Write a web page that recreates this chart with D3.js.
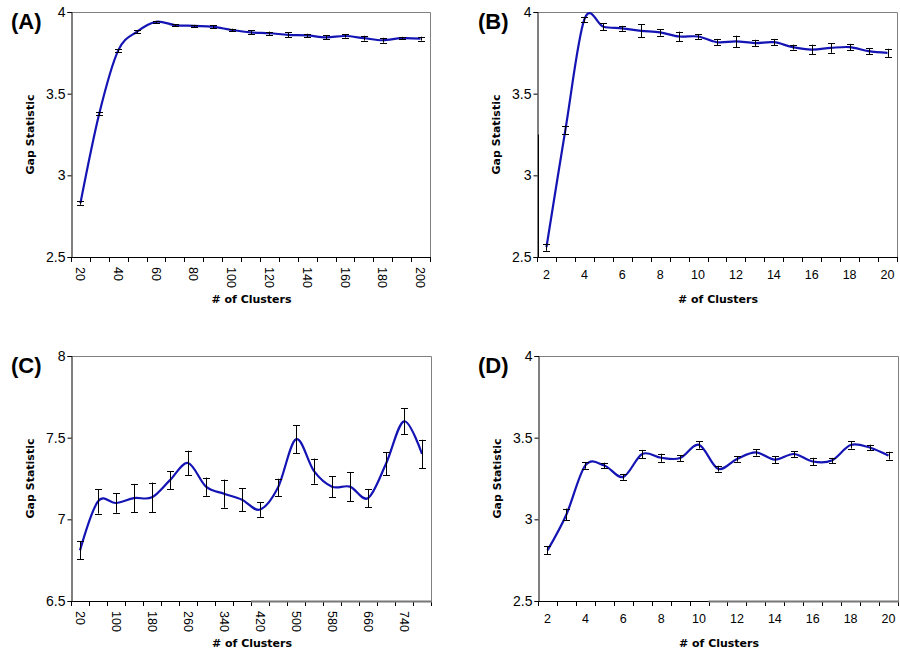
<!DOCTYPE html>
<html>
<head>
<meta charset="utf-8">
<script src="https://cdn.jsdelivr.net/npm/d3@7/dist/d3.min.js"></script>
<style>
  body { margin: 0; background: #fff; }
  svg { display: block; }
  .tick-y { font: 14px "Liberation Sans", Arial, sans-serif; }
  .tick-x { font: 12.5px "Liberation Sans", Arial, sans-serif; }
  .title { font: bold 11px "DejaVu Sans", Verdana, sans-serif; }
  .panel { font: bold 22px "Liberation Sans", Arial, sans-serif; }
</style>
</head>
<body>
<svg width="900" height="651"></svg>
<script>
// (A)
const clustersA = [20, 30, 40, 50, 60, 70, 80, 90, 100, 110, 120, 130, 140, 150, 160, 170, 180, 190, 200];
const gapA = [2.83, 3.38, 3.765, 3.88, 3.94, 3.92, 3.915, 3.91, 3.89, 3.875, 3.87, 3.86, 3.857, 3.845, 3.853, 3.84, 3.827, 3.84, 3.837];
const errA = [0.01, 0.01, 0.01, 0.008, 0.005, 0.006, 0.006, 0.008, 0.008, 0.012, 0.01, 0.015, 0.01, 0.012, 0.01, 0.015, 0.015, 0.008, 0.012];
const yTicksA = [2.5, 3, 3.5, 4];

// (B)
const clustersB = [2, 3, 4, 5, 6, 7, 8, 9, 10, 11, 12, 13, 14, 15, 16, 17, 18, 19, 20];
const gapB = [2.56, 3.28, 3.955, 3.91, 3.9, 3.885, 3.875, 3.85, 3.85, 3.815, 3.82, 3.81, 3.815, 3.785, 3.77, 3.78, 3.785, 3.76, 3.75];
const errB = [0.022, 0.025, 0.015, 0.02, 0.015, 0.04, 0.02, 0.03, 0.015, 0.02, 0.035, 0.02, 0.02, 0.015, 0.03, 0.03, 0.02, 0.02, 0.025];
const yTicksB = [2.5, 3, 3.5, 4];

// (C)
const clustersC = [20, 60, 100, 140, 180, 220, 260, 300, 340, 380, 420, 460, 500, 540, 580, 620, 660, 700, 740, 780];
const gapC = [6.81, 7.11, 7.1, 7.13, 7.135, 7.24, 7.345, 7.2, 7.157, 7.12, 7.06, 7.195, 7.49, 7.295, 7.2, 7.2, 7.13, 7.34, 7.6, 7.4];
const errC = [0.055, 0.075, 0.06, 0.087, 0.09, 0.055, 0.075, 0.056, 0.086, 0.07, 0.045, 0.054, 0.085, 0.077, 0.064, 0.09, 0.056, 0.07, 0.08, 0.087];
const yTicksC = [6.5, 7, 7.5, 8];

// (D)
const clustersD = [2, 3, 4, 5, 6, 7, 8, 9, 10, 11, 12, 13, 14, 15, 16, 17, 18, 19, 20];
const gapD = [2.81, 3.03, 3.33, 3.33, 3.26, 3.4, 3.377, 3.375, 3.456, 3.31, 3.37, 3.41, 3.365, 3.4, 3.354, 3.36, 3.455, 3.44, 3.39];
const errD = [0.025, 0.036, 0.02, 0.017, 0.018, 0.025, 0.025, 0.017, 0.023, 0.018, 0.017, 0.02, 0.023, 0.018, 0.023, 0.016, 0.022, 0.017, 0.024];
const yTicksD = [2.5, 3, 3.5, 4];

const svg = d3.select('svg');
svg.append('rect').attr('width', 900).attr('height', 651).attr('fill', '#fff');

function drawPanel(p) {
  const { left, top, right, bottom } = p.box;
  const x = d3.scaleBand().domain(p.cats).range([left, right]).padding(0);
  const y = d3.scaleLinear().domain(d3.extent(p.yTicks)).range([bottom, top]);
  const g = svg.append('g');

  // gray frame on top / right
  g.append('path')
    .attr('d', `M${left},${top + 0.5}H${right + 0.5}V${bottom}`)
    .attr('fill', 'none').attr('stroke', '#808080').attr('stroke-width', 1);

  // y axis
  const yAxis = g.append('g').attr('transform', `translate(${left + 0.5},0)`)
    .call(d3.axisLeft(y).tickValues(p.yTicks).tickSize(4).tickPadding(2).tickFormat(d => String(d)));
  yAxis.select('.domain').attr('stroke', '#000');
  yAxis.selectAll('.tick line').attr('stroke', '#000');
  yAxis.selectAll('text').attr('class', 'tick-y').attr('fill', '#000')
    .attr('font-family', null).attr('font-size', null);

  // x axis: ticks on category boundaries, labels every other category
  const edges = p.cats.map(c => x(c)).concat([right]);
  const xg = g.append('g');
  xg.append('line').attr('x1', left).attr('x2', right + 1)
    .attr('y1', bottom + 0.5).attr('y2', bottom + 0.5).attr('stroke', '#000');
  xg.selectAll('.xt').data(edges).join('line')
    .attr('x1', d => Math.round(d) + 0.5).attr('x2', d => Math.round(d) + 0.5)
    .attr('y1', bottom).attr('y2', bottom + 5).attr('stroke', '#000');
  const labelled = p.cats.filter((c, i) => i % 2 === 0);
  if (p.rotate) {
    xg.selectAll('.xl').data(labelled).join('text').attr('class', 'tick-x')
      .attr('transform', d => `translate(${x(d) + x.bandwidth() / 2},${bottom + 10}) rotate(90)`)
      .attr('dy', '0.35em').text(d => d);
  } else {
    xg.selectAll('.xl').data(labelled).join('text').attr('class', 'tick-x')
      .attr('x', d => x(d) + x.bandwidth() / 2).attr('y', bottom + 22)
      .attr('text-anchor', 'middle').text(d => d);
  }

  // seam artefacts on the axes of the original
  if (p.seamY) {
    g.append('line').attr('x1', left + 1.5).attr('x2', left + 1.5)
      .attr('y1', y(p.seamY)).attr('y2', bottom).attr('stroke', '#000');
  }
  if (p.seamX) {
    g.append('line').attr('x1', x(p.seamX)).attr('x2', right + 1)
      .attr('y1', bottom + 0.5).attr('y2', bottom + 0.5)
      .attr('stroke', '#777').attr('stroke-width', 2);
  }

  // titles
  g.append('text').attr('class', 'title')
    .attr('transform', `translate(${left - 37},${(top + bottom) / 2}) rotate(-90)`)
    .attr('text-anchor', 'middle').text('Gap Statistic');
  g.append('text').attr('class', 'title')
    .attr('x', (left + right) / 2 + 1).attr('y', bottom + 46)
    .attr('text-anchor', 'middle').text('# of Clusters');
  g.append('text').attr('class', 'panel')
    .attr('x', p.label[0]).attr('y', p.label[1]).text(p.name);

  const pts = p.cats.map((c, i) => ({ c, v: p.vals[i], e: p.errs[i] }));
  const cx = d => x(d.c) + x.bandwidth() / 2;

  // smoothed line
  g.append('path').datum(pts)
    .attr('d', d3.line().x(cx).y(d => y(d.v)).curve(d3.curveCardinal.tension(0)))
    .attr('fill', 'none').attr('stroke', '#1414b4').attr('stroke-width', 2.2);

  // error bars
  const eb = g.append('g').attr('stroke', '#000').attr('stroke-width', 1);
  eb.selectAll('.v').data(pts).join('line')
    .attr('x1', d => Math.round(cx(d)) + 0.5).attr('x2', d => Math.round(cx(d)) + 0.5)
    .attr('y1', d => y(d.v + d.e)).attr('y2', d => y(d.v - d.e));
  eb.selectAll('.t').data(pts).join('line')
    .attr('x1', d => Math.round(cx(d)) - 3).attr('x2', d => Math.round(cx(d)) + 4)
    .attr('y1', d => Math.round(y(d.v + d.e)) + 0.5).attr('y2', d => Math.round(y(d.v + d.e)) + 0.5);
  eb.selectAll('.b').data(pts).join('line')
    .attr('x1', d => Math.round(cx(d)) - 3).attr('x2', d => Math.round(cx(d)) + 4)
    .attr('y1', d => Math.round(y(d.v - d.e)) + 0.5).attr('y2', d => Math.round(y(d.v - d.e)) + 0.5);
}

drawPanel({ name: '(A)', label: [11, 29], box: { left: 71, top: 12, right: 430, bottom: 257 },
  cats: clustersA, vals: gapA, errs: errA, yTicks: yTicksA, rotate: true });
drawPanel({ name: '(B)', label: [478, 29], box: { left: 537, top: 12, right: 897, bottom: 257 },
  cats: clustersB, vals: gapB, errs: errB, yTicks: yTicksB, rotate: false, seamY: 3.25 });
drawPanel({ name: '(C)', label: [11, 373], box: { left: 71, top: 356, right: 431, bottom: 601 },
  cats: clustersC, vals: gapC, errs: errC, yTicks: yTicksC, rotate: true, seamX: 420 });
drawPanel({ name: '(D)', label: [478, 373], box: { left: 538, top: 356, right: 898, bottom: 601 },
  cats: clustersD, vals: gapD, errs: errD, yTicks: yTicksD, rotate: false, seamX: 11 });
</script>
</body>
</html>
